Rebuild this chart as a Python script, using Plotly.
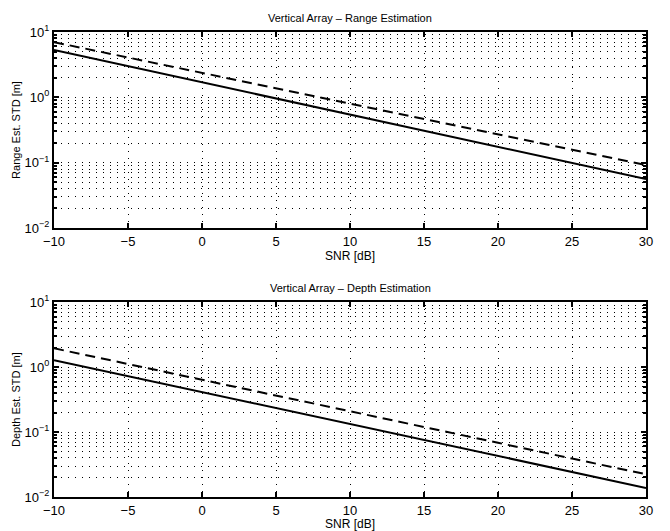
import plotly.graph_objects as go

snr = [-10, -5, 0, 5, 10, 15, 20, 25, 30]
range_solid = [5.30, 3.00, 1.70, 0.963, 0.546, 0.309, 0.175, 0.0993, 0.056]
range_dashed = [7.0, 4.07, 2.37, 1.38, 0.80, 0.468, 0.272, 0.158, 0.092]
depth_solid = [1.28, 0.728, 0.413, 0.234, 0.133, 0.0755, 0.0429, 0.0243, 0.0138]
depth_dashed = [1.95, 1.12, 0.638, 0.365, 0.209, 0.1195, 0.0684, 0.0391, 0.0224]

titles = ["Vertical Array \u2013 Range Estimation", "Vertical Array \u2013 Depth Estimation"]
ylabels = ["Range Est. STD [m]", "Depth Est. STD [m]"]
xlabel = "SNR [dB]"
ytickvals = [1e-2, 1e-1, 1e0, 1e1]
yticktext = ["10<sup>\u22122</sup>", "10<sup>\u22121</sup>", "10<sup>0</sup>", "10<sup>1</sup>"]
xtickvals = [-10, -5, 0, 5, 10, 15, 20, 25, 30]
xticktext = ["\u221210", "\u22125", "0", "5", "10", "15", "20", "25", "30"]
minor_vals = [m * 10 ** e for e in (-2, -1, 0) for m in range(2, 10)]

FONT = "Liberation Sans, Arial, Helvetica, sans-serif"

fig = go.Figure()
series = [(range_solid, range_dashed), (depth_solid, depth_dashed)]
domains = [[0.5785, 1.0], [0.0, 0.419]]

for i, (s, d) in enumerate(series):
    xa = "x" if i == 0 else "x2"
    ya = "y" if i == 0 else "y2"
    fig.add_trace(go.Scatter(x=snr, y=s, mode="lines", xaxis=xa, yaxis=ya,
                             line=dict(color="black", width=2), showlegend=False))
    fig.add_trace(go.Scatter(x=snr, y=d, mode="lines", xaxis=xa, yaxis=ya,
                             line=dict(color="black", width=2, dash="10px,6px"), showlegend=False))

grid_dash = "1px,6px"
for i in range(2):
    xk = "xaxis" if i == 0 else "xaxis2"
    yk = "yaxis" if i == 0 else "yaxis2"
    fig.layout[xk] = dict(
        domain=[0, 1], anchor="y" if i == 0 else "y2", automargin=False,
        range=[-10, 30], tickvals=xtickvals, ticktext=xticktext,
        ticks="inside", ticklen=5, tickwidth=1.5, tickcolor="black",
        showline=True, linecolor="black", linewidth=2, mirror="ticks",
        showgrid=True, gridcolor="black", gridwidth=1, griddash=grid_dash,
        zeroline=False,
        tickfont=dict(family=FONT, size=13, color="black"),
        title=dict(text=xlabel, font=dict(family=FONT, size=12, color="black"), standoff=1),
    )
    fig.layout[yk] = dict(
        domain=domains[i], anchor="x" if i == 0 else "x2", automargin=False,
        type="log", range=[-2, 1], tickvals=ytickvals, ticktext=yticktext,
        ticks="inside", ticklen=5, tickwidth=1.5, tickcolor="black",
        showline=True, linecolor="black", linewidth=2, mirror="ticks",
        showgrid=True, gridcolor="black", gridwidth=1, griddash=grid_dash,
        zeroline=False,
        minor=dict(tickmode="array", tickvals=minor_vals, ticks="inside", ticklen=3,
                   tickcolor="black", showgrid=True, gridcolor="black", gridwidth=1,
                   griddash=grid_dash),
        tickfont=dict(family=FONT, size=13, color="black"),
        title=dict(text=ylabels[i], font=dict(family=FONT, size=11, color="black"), standoff=2),
    )
    fig.add_annotation(text=titles[i], xref="paper", yref="paper", x=0.5,
                       y=domains[i][1], yanchor="bottom", yshift=6, showarrow=False,
                       font=dict(family=FONT, size=11, color="black"))

fig.update_layout(
    width=662, height=523,
    margin=dict(l=46, r=24, t=24, b=34),
    paper_bgcolor="white", plot_bgcolor="white",
    font=dict(family=FONT, color="black"),
)

fig.write_html("out.html")
